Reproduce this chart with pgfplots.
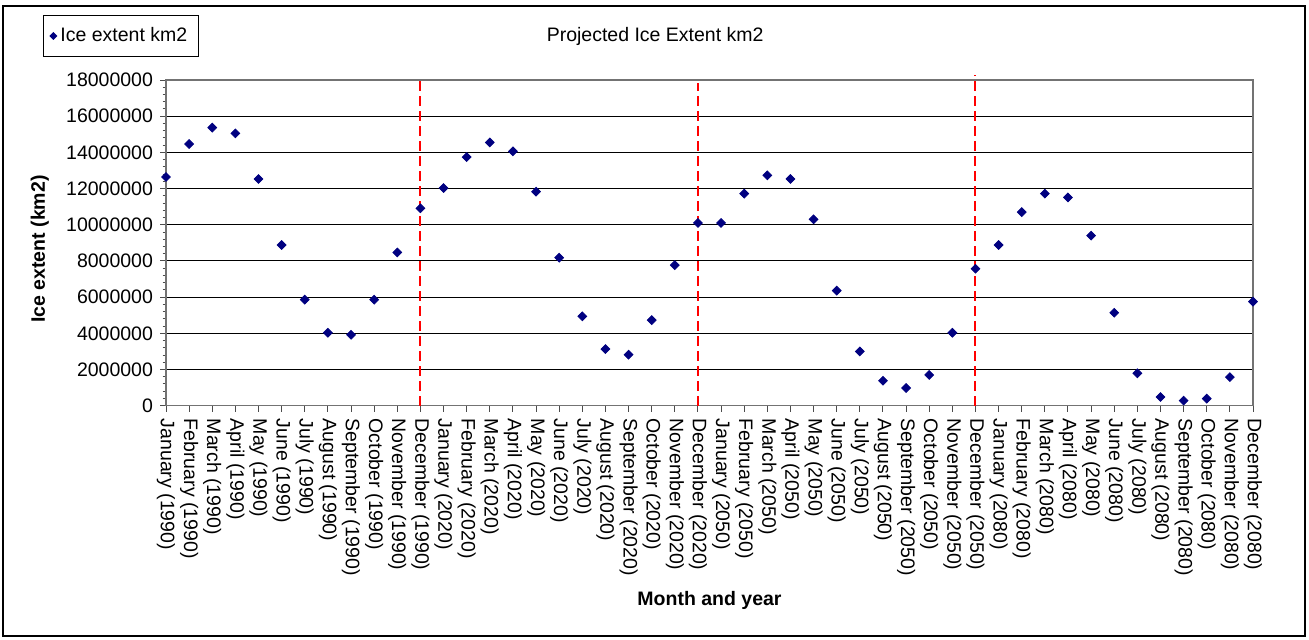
\documentclass[border=0pt]{standalone}
\usepackage{pgfplots}
\pgfplotsset{compat=1.18}
\usepackage{fontspec}
\setmainfont{Liberation Sans}
\newcommand\f{\fontsize{9.75}{11.7}\selectfont}
\definecolor{navy}{HTML}{000080}
\pgfplotsset{mylegimg/.style={legend image code/.code={\draw[mark repeat=2,mark phase=2,##1,mark size=1.1pt] plot coordinates {(0pt,0pt) (5.5pt,0pt) (11pt,0pt)};}}}
\begin{document}
\begin{tikzpicture}
\path[use as bounding box] (0,0) rectangle (654.5pt,319.5pt);
\draw[black, line width=0.8pt] (1.5pt,1.5pt) rectangle (652.5pt,316.5pt);
\begin{axis}[
  at={(83pt,116.65pt)}, anchor=south west,
  scale only axis, width=543.5pt, height=162.85pt,
  xmin=0, xmax=47, ymin=0, ymax=18000000,
  enlargelimits=false, clip=false,
  axis line style={draw=black!55, line width=0.7pt},
  xtick={0,...,47},
  xticklabels={January (1990),February (1990),March (1990),April (1990),May (1990),June (1990),July (1990),August (1990),September (1990),October (1990),November (1990),December (1990),January (2020),February (2020),March (2020),April (2020),May (2020),June (2020),July (2020),August (2020),September (2020),October (2020),November (2020),December (2020),January (2050),February (2050),March (2050),April (2050),May (2050),June (2050),July (2050),August (2050),September (2050),October (2050),November (2050),December (2050),January (2080),February (2080),March (2080),April (2080),May (2080),June (2080),July (2080),August (2080),September (2080),October (2080),November (2080),December (2080)},
  xticklabel style={rotate=-90, anchor=west, font=\f},
  ytick={0,2000000,...,18000000},
  minor y tick num=4,
  scaled y ticks=false,
  yticklabel style={font=\f, /pgf/number format/.cd, fixed, precision=0, 1000 sep={}, assume math mode=true},
  tick align=outside,
  major tick length=3pt, minor tick length=1.7pt,
  tick style={black!70, line width=0.5pt},
  xtick pos=bottom, ytick pos=left,
  ymajorgrids,
  grid style={black, line width=0.5pt},
  xlabel={Month and year},
  xlabel style={at={(axis description cs:0.5,-0.597)}, anchor=center, font=\f\bfseries},
  ylabel={Ice extent (km2)},
  ylabel style={at={(axis description cs:-0.116,0.481)}, anchor=center, rotate=0, font=\f\bfseries},
  legend style={at={(axis description cs:-0.1135,1.2)}, anchor=north west, draw=black, line width=0.6pt, font=\f, inner xsep=3.5pt, inner ysep=4pt, /tikz/every even column/.append style={column sep=2pt}},
  legend cell align=left,
]
\addplot[only marks, mark=square*, mark size=1.55pt, mark options={rotate=45, fill=navy, draw=navy}, mylegimg] coordinates {
(0,12640000) (1,14460000) (2,15370000) (3,15050000) (4,12530000) (5,8880000)
(6,5860000) (7,4030000) (8,3920000) (9,5860000) (10,8470000) (11,10910000)
(12,12030000) (13,13740000) (14,14550000) (15,14060000) (16,11830000) (17,8180000)
(18,4940000) (19,3130000) (20,2820000) (21,4730000) (22,7770000) (23,10100000)
(24,10100000) (25,11720000) (26,12730000) (27,12530000) (28,10300000) (29,6360000)
(30,3000000) (31,1380000) (32,980000) (33,1700000) (34,4030000) (35,7570000)
(36,8880000) (37,10700000) (38,11720000) (39,11510000) (40,9400000) (41,5140000)
(42,1790000) (43,480000) (44,280000) (45,390000) (46,1580000) (47,5750000)
};
\addlegendentry{Ice extent km2}
\addplot[forget plot, red, line width=1pt, dash pattern=on 5pt off 2.5pt] coordinates {(11,0) (11,18000000)};
\addplot[forget plot, red, line width=1pt, dash pattern=on 5pt off 2.5pt] coordinates {(23,0) (23,17850000)};
\addplot[forget plot, red, line width=1pt, dash pattern=on 5pt off 2.5pt] coordinates {(35,0) (35,18300000)};
\node[font=\f, anchor=center] at (axis description cs:0.45,1.135) {Projected Ice Extent km2};
\end{axis}
\end{tikzpicture}
\end{document}
